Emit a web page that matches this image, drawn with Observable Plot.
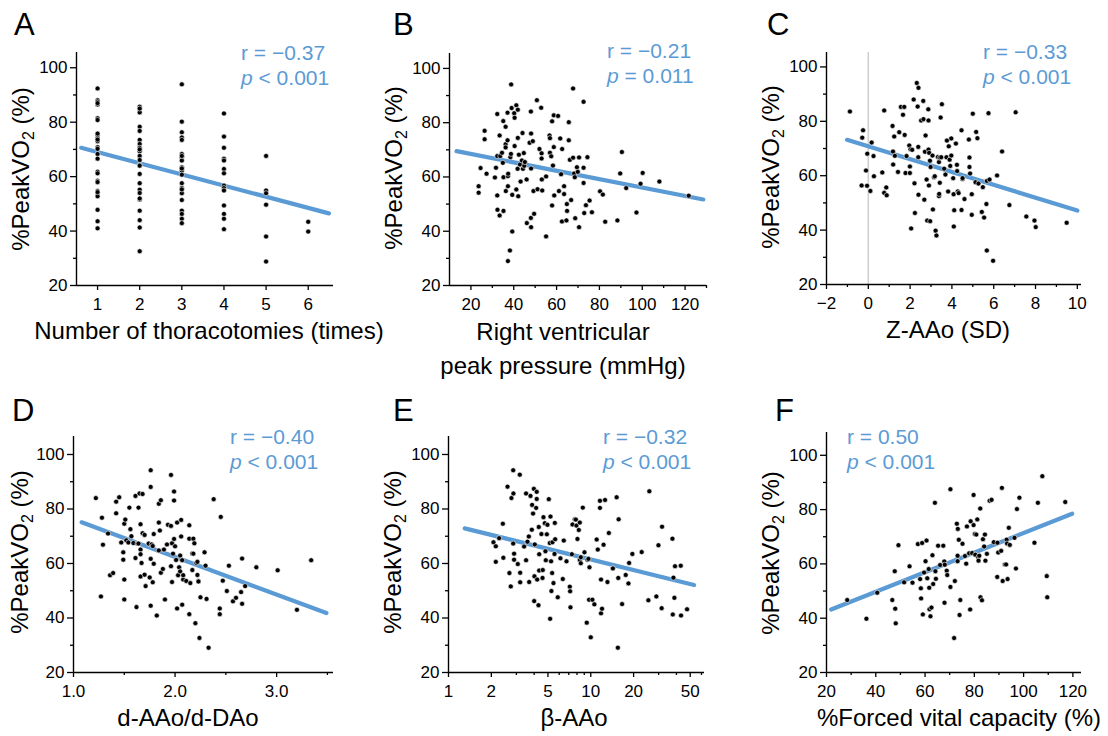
<!DOCTYPE html>
<html><head><meta charset="utf-8">
<script src="https://cdn.jsdelivr.net/npm/d3@7"></script>
<script src="https://cdn.jsdelivr.net/npm/@observablehq/plot@0.6"></script>
<style>
body{margin:0;background:#fff;}
#wrap{position:relative;width:1108px;height:736px;overflow:hidden;font-family:Helvetica,Arial,"Liberation Sans",sans-serif;}
#wrap svg{position:absolute;}
</style></head>
<body><div id="wrap"></div>
<script>
// ---- data: [x, %PeakVO2] ----
const aData = [
 [1,92.4],[1,88.1],[1,87.6],[1,86.5],[1,81.4],[1,80.8],[1,75.2],[1,74.2],[1,73.0],[1,70.8],[1,70.2],[1,68.3],[1,66.6],[1,61.8],[1,61.2],[1,58.5],[1,57.9],[1,54.7],[1,54.0],[1,52.8],[1,47.8],[1,43.6],[1,41.0],[1,87.0],[1,75.8],[1,73.6],[1,58.0],[1,54.3],
 [2,85.7],[2,84.8],[2,83.6],[2,78.3],[2,76.8],[2,73.5],[2,72.0],[2,70.6],[2,69.3],[2,67.6],[2,66.1],[2,64.3],[2,61.0],[2,57.6],[2,55.2],[2,54.0],[2,51.6],[2,47.5],[2,44.0],[2,41.3],[2,32.6],[2,85.0],[2,70.0],[2,64.0],[2,52.0],
 [3,93.9],[3,80.2],[3,76.3],[3,74.4],[3,73.5],[3,68.3],[3,67.1],[3,65.9],[3,63.4],[3,62.2],[3,60.7],[3,57.6],[3,55.8],[3,53.9],[3,51.4],[3,47.5],[3,46.3],[3,44.5],[3,42.9],[3,67.6],[3,63.0],[3,55.3],
 [4,83.2],[4,74.7],[4,70.6],[4,66.6],[4,65.9],[4,62.8],[4,61.2],[4,56.7],[4,55.8],[4,54.9],[4,49.4],[4,46.3],[4,44.5],[4,40.7],
 [5,67.6],[5,54.9],[5,53.9],[5,49.7],[5,38.0],[5,28.8],
 [6,43.4],[6,39.8]
];
const bData = [
 [23.6,56.6],[23.6,54.2],[24.5,63.3],[26.4,77.0],[26.4,73.9],[27.3,61.2],[31.2,59.8],[31.7,63.4],[32.3,83.2],[32.3,67.7],
 [32.3,53.2],[32.4,47.9],[33.4,75.3],[33.4,45.8],[33.7,67.7],[34.5,68.9],[34.9,65.2],[35.2,47.5],[35.2,59.9],[35.1,80.6],
 [36.2,78.5],[36.2,72.1],[36.2,70.9],[36.3,54.8],[37.1,83.7],[37.1,73.5],[37.3,56.6],[37.3,60.3],[37.4,61.2],[38.4,67.3],
 [38.7,68.5],[38.8,94.1],[39.0,85.4],[39.3,53.4],[39.3,39.9],[38.2,32.9],[37.3,29.0],[40.2,83.5],[40.4,81.8],[40.4,71.4],
 [41.2,86.4],[41.9,84.8],[41.2,55.4],[41.8,63.0],[41.9,74.4],[42.1,52.9],[42.4,68.2],[42.9,64.6],[43.2,58.3],[43.8,66.1],
 [44.1,76.2],[44.3,63.0],[44.7,68.8],[44.9,64.1],[45.2,65.5],[46.1,43.0],[46.0,59.1],[47.4,72.6],[48.0,84.1],[48.1,76.0],
 [48.1,63.1],[48.0,44.9],[48.1,41.5],[48.9,73.2],[49.2,54.8],[49.5,46.4],[50.8,88.3],[51.1,55.5],[52.0,70.3],[52.8,85.5],
 [53.0,68.7],[53.0,66.8],[53.1,59.1],[53.3,55.0],[55.1,60.2],[55.1,38.1],[56.7,75.3],[56.9,74.3],[56.9,68.9],[57.5,67.6],
 [57.9,80.5],[57.9,49.5],[58.3,64.2],[58.7,82.7],[58.7,71.0],[58.9,53.2],[60.7,82.5],[61.1,54.8],[61.7,74.2],[62.1,61.0],
 [62.6,70.3],[62.5,43.6],[63.5,53.7],[63.5,56.6],[64.6,44.0],[64.8,50.0],[64.9,47.5],[65.7,80.2],[65.7,73.5],[66.2,66.3],
 [66.8,51.5],[67.7,92.6],[67.7,67.1],[68.2,61.3],[68.5,59.9],[68.7,44.8],[69.5,63.6],[69.9,61.9],[70.5,41.5],[70.5,67.2],
 [72.6,87.7],[72.6,63.4],[72.6,57.8],[72.9,46.7],[73.7,49.6],[74.4,67.3],[75.4,51.3],[76.5,47.0],[80.3,54.7],[81.6,53.5],
 [82.7,43.5],[88.4,44.0],[89.7,61.3],[90.5,69.2],[92.5,55.9],[97.3,46.9],[99.2,57.5],[100.2,61.5],[108.0,58.3],[121.7,53.1]
];
const cData = [
 [-0.88,83.6],[-0.32,56.4],[-0.29,74.0],[-0.25,76.7],[-0.11,61.9],[-0.06,56.3],[-0.05,68.1],[0.10,54.4],[0.16,72.2],[0.25,67.2],
 [0.27,59.8],[0.67,61.2],[0.76,84.0],[0.76,53.7],[0.86,55.7],[0.88,52.8],[1.16,78.3],[1.18,68.9],[1.19,64.1],[1.24,74.4],
 [1.27,67.3],[1.42,61.4],[1.48,76.0],[1.56,85.3],[1.66,82.4],[1.72,85.3],[1.74,75.0],[1.78,61.0],[1.83,67.2],[1.96,71.1],
 [1.99,63.4],[1.99,61.0],[2.02,69.7],[2.05,40.6],[2.10,69.5],[2.17,88.0],[2.21,57.2],[2.23,46.3],[2.32,94.1],[2.36,85.4],
 [2.40,92.3],[2.39,70.6],[2.39,66.8],[2.40,53.0],[2.53,80.3],[2.63,87.5],[2.64,80.8],[2.68,51.2],[2.71,68.8],[2.74,74.8],
 [2.79,58.6],[2.82,43.5],[2.87,84.4],[2.88,80.3],[2.88,69.6],[2.90,56.4],[2.91,68.4],[2.95,65.5],[2.96,43.3],[2.98,63.2],
 [3.07,67.4],[3.09,47.6],[3.15,59.4],[3.18,59.8],[3.22,39.8],[3.26,38.0],[3.33,66.9],[3.38,65.0],[3.38,52.5],[3.39,53.3],
 [3.42,57.4],[3.42,66.7],[3.46,81.4],[3.49,66.8],[3.52,86.3],[3.63,62.6],[3.69,60.4],[3.74,66.8],[3.76,72.9],[3.82,54.2],
 [3.85,70.8],[3.89,65.9],[3.92,63.6],[3.97,67.4],[3.97,73.7],[4.06,59.1],[4.08,53.2],[4.09,41.3],[4.11,47.3],[4.19,71.8],
 [4.24,64.0],[4.25,61.7],[4.28,54.2],[4.32,53.6],[4.46,76.7],[4.46,47.4],[4.51,58.8],[4.51,59.1],[4.60,51.4],[4.81,73.3],
 [4.84,66.7],[4.84,63.2],[4.87,60.8],[4.95,45.6],[4.95,53.2],[5.00,82.8],[5.13,57.6],[5.16,76.1],[5.22,73.8],[5.27,57.1],
 [5.43,46.7],[5.48,55.8],[5.54,44.6],[5.65,49.6],[5.67,32.5],[5.67,58.1],[5.75,83.0],[5.80,58.6],[5.97,28.7],[6.16,60.1],
 [6.40,68.9],[6.75,49.2],[7.05,83.3],[7.56,45.0],[7.95,43.5],[8.01,41.1],[9.49,42.7]
];
const dData = [
 [1.22,84.0],[1.28,76.8],[1.29,66.9],[1.27,47.9],[1.34,71.0],[1.36,55.7],[1.39,56.5],[1.42,82.7],[1.42,78.4],[1.45,84.3],
 [1.47,67.7],[1.49,64.1],[1.49,61.4],[1.50,74.6],[1.50,54.1],[1.50,46.8],[1.51,76.1],[1.52,68.5],[1.54,67.7],[1.55,80.5],
 [1.56,72.6],[1.57,70.0],[1.59,67.5],[1.61,84.8],[1.61,62.0],[1.62,44.0],[1.63,67.3],[1.64,80.5],[1.64,67.3],[1.65,85.7],
 [1.66,65.1],[1.66,74.4],[1.66,63.4],[1.66,55.2],[1.67,60.2],[1.68,71.1],[1.68,85.5],[1.70,70.5],[1.70,55.9],[1.71,51.7],
 [1.74,67.3],[1.75,54.9],[1.76,94.2],[1.76,88.1],[1.76,44.5],[1.76,61.7],[1.77,67.0],[1.78,53.1],[1.78,66.4],[1.79,70.8],
 [1.79,59.9],[1.82,40.9],[1.84,75.0],[1.84,81.9],[1.84,64.8],[1.85,72.1],[1.86,56.6],[1.86,83.2],[1.88,58.0],[1.89,65.1],
 [1.90,46.8],[1.92,67.0],[1.93,74.2],[1.96,92.5],[1.96,73.8],[1.96,59.0],[1.97,53.2],[1.97,67.4],[1.98,63.6],[1.99,86.4],
 [1.99,83.1],[1.99,69.0],[2.00,66.3],[2.01,61.3],[2.02,75.0],[2.02,43.5],[2.03,55.7],[2.04,58.6],[2.05,62.9],[2.05,57.1],
 [2.06,69.9],[2.06,76.0],[2.07,44.9],[2.07,61.2],[2.08,54.1],[2.08,55.7],[2.11,53.6],[2.14,41.4],[2.14,74.0],[2.14,69.1],
 [2.15,52.8],[2.17,57.6],[2.17,63.7],[2.18,69.1],[2.18,63.6],[2.19,67.4],[2.20,38.1],[2.21,60.2],[2.22,60.6],[2.22,55.8],
 [2.23,53.6],[2.23,53.4],[2.24,32.7],[2.25,47.6],[2.29,64.1],[2.30,59.2],[2.31,47.0],[2.33,29.1],[2.38,83.6],[2.44,43.5],
 [2.44,41.4],[2.45,77.1],[2.47,53.7],[2.51,49.9],[2.53,59.2],[2.57,46.1],[2.60,47.4],[2.65,49.5],[2.66,61.8],[2.66,45.2],
 [2.69,51.7],[2.80,58.6],[3.01,57.5],[3.20,43.0],[3.34,61.2]
];
const eData = [
 [2.07,67.8],[2.15,66.3],[2.15,60.6],[2.27,69.3],[2.41,74.6],[2.43,62.1],[2.60,88.2],[2.68,56.5],[2.74,51.6],[2.77,84.0],
 [2.85,94.2],[2.86,85.7],[2.85,67.3],[2.89,63.6],[2.89,61.4],[3.07,59.8],[3.17,92.6],[3.19,56.6],[3.19,53.1],[3.40,66.2],
 [3.51,85.7],[3.51,61.2],[3.59,68.0],[3.67,69.9],[3.69,53.2],[3.77,84.8],[3.85,72.4],[3.87,81.5],[3.93,78.3],[3.98,87.4],
 [4.02,55.3],[4.00,46.2],[4.04,67.0],[4.13,80.4],[4.17,86.3],[4.17,83.7],[4.20,54.1],[4.29,44.7],[4.31,73.4],[4.34,63.4],
 [4.34,57.4],[4.50,70.8],[4.58,54.7],[4.60,57.6],[4.65,77.0],[4.75,74.8],[4.80,64.5],[4.83,61.2],[4.91,70.7],[4.96,74.2],
 [5.07,83.6],[5.15,67.5],[5.18,39.7],[5.21,77.2],[5.26,60.8],[5.29,49.9],[5.35,56.5],[5.38,67.8],[5.47,52.8],[5.56,63.5],
 [5.59,74.9],[5.62,68.9],[5.86,47.6],[6.12,61.9],[6.36,54.3],[6.46,68.4],[6.75,60.8],[7.12,51.5],[7.16,49.8],[7.20,43.9],
 [7.36,63.4],[7.44,74.3],[7.72,76.2],[7.85,76.1],[7.93,73.9],[8.06,69.0],[8.24,72.3],[8.37,75.0],[8.37,61.3],[8.51,62.3],
 [8.51,60.1],[8.79,80.5],[9.03,64.1],[9.37,38.3],[9.48,61.4],[9.63,61.7],[9.73,46.7],[9.79,58.6],[10.0,32.9],[10.27,46.7],
 [10.6,45.0],[11.0,68.8],[11.2,65.1],[11.6,83.0],[11.6,80.4],[11.8,54.1],[11.8,41.7],[12.0,43.4],[12.3,66.9],[12.6,83.3],
 [13.1,53.2],[13.4,71.2],[14.3,58.2],[15.2,84.3],[15.5,29.1],[15.6,54.7],[15.7,76.2],[16.6,45.1],[17.6,55.8],[18.4,52.7],
 [18.6,60.2],[19.6,63.5],[22.8,64.2],[25.4,46.5],[25.8,86.5],[28.9,47.9],[29.9,66.7],[31.5,43.6],[31.7,73.5],[37.5,69.1],
 [37.7,41.3],[38.1,54.8],[38.7,47.4],[39.1,59.0],[42.9,59.2],[43.1,40.9],[47.5,43.2]
];
const fData = [
 [28.4,46.7],[36.2,39.8],[40.6,49.4],[46.7,46.7],[47.7,57.3],[47.9,43.5],[48.1,38.1],[49.2,66.9],[51.5,53.2],[53.7,59.1],
 [54.9,53.1],[57.1,67.3],[58.0,54.4],[58.3,51.0],[58.4,47.3],[58.8,67.7],[59.1,41.4],[59.6,56.8],[60.2,61.0],[60.6,68.6],
 [60.9,54.7],[61.5,58.1],[61.7,51.2],[61.8,43.3],[62.2,40.7],[62.6,43.9],[63.0,63.2],[63.3,52.6],[64.0,82.5],[64.2,57.3],
 [64.4,54.5],[65.3,66.7],[66.1,59.6],[67.4,66.7],[67.8,60.9],[67.9,45.7],[68.0,59.7],[68.8,57.5],[69.0,55.9],[70.3,51.5],
 [70.3,87.5],[72.1,53.7],[71.8,32.7],[72.9,74.8],[73.2,63.0],[73.2,61.0],[73.3,72.9],[73.7,68.9],[74.0,41.2],[74.3,46.7],
 [75.2,67.4],[76.2,62.9],[76.7,60.1],[77.0,73.8],[77.9,63.9],[78.3,43.2],[78.5,75.7],[79.1,64.0],[79.7,85.4],[79.7,74.3],
 [80.2,71.0],[80.4,63.4],[80.8,70.8],[81.2,76.4],[81.6,62.4],[81.7,61.2],[82.0,63.0],[82.4,80.4],[82.5,47.7],[83.1,46.6],
 [83.5,69.1],[84.0,66.4],[84.3,70.8],[84.5,61.2],[85.1,63.7],[86.2,83.3],[87.0,83.6],[87.9,68.0],[89.3,55.2],[89.4,67.8],
 [89.7,64.2],[90.9,64.8],[91.2,88.0],[91.5,53.7],[92.4,59.8],[92.9,59.8],[93.1,68.9],[93.3,67.5],[93.5,54.4],[94.0,73.3],
 [94.4,67.0],[96.3,69.6],[96.9,58.3],[97.3,80.2],[98.3,84.4],[104.4,67.8],[105.8,82.5],[107.6,92.3],[109.4,55.5],[109.6,47.7],
 [116.9,82.8]
];
// regression lines as drawn: [[x1,y1],[x2,y2]]
const aFit = [[0.61,70.6],[6.49,46.5]];
const bFit = [[13.3,69.5],[128.5,51.7]];
const cFit = [[-1.02,73.2],[10.0,47.2]];
const dFit = [[1.08,75.1],[3.49,41.8]];
const eFit = [[1.30,72.9],[53.2,52.1]];
const fFit = [[21.9,43.2],[119.7,78.5]];
// tick values
const yTicks = [20,40,60,80,100];
const yMinor = [30,50,70,90];
const aTicks = [1,2,3,4,5,6];
const bTicks = [20,40,60,80,100,120], bMinor = [30,50,70,90,110,130];
const cTicks = [-2,0,2,4,6,8,10], cMinor = [-1,1,3,5,7,9];
const dTicks = [1.0,2.0,3.0], dMinor = [1.5,2.5,3.5];
const eTicks = [1,2,5,10,20,50], eMinor = [3,4,6,7,8,9,30,40,60];
const fTicks = [20,40,60,80,100,120], fMinor = [30,50,70,90,110];
// statistics text
const stats = {A:["r = −0.37","<"," 0.001"],B:["r = −0.21","="," 0.011"],C:["r = −0.33","<"," 0.001"],D:["r = −0.40","<"," 0.001"],E:["r = −0.32","<"," 0.001"],F:["r = 0.50","<"," 0.001"]};
const xTitles = {A:["Number of thoracotomies (times)"],B:["Right ventricular","peak pressure (mmHg)"],C:["Z-AAo (SD)"],D:["d-AAo/d-DAo"],E:["β-AAo"],F:["%Forced vital capacity (%)"]};

const BLUE = "#5b9bd5";
const FONT = "Helvetica, Arial, 'Liberation Sans', sans-serif";
const minus = d => d < 0 ? "−" + Math.abs(d) : String(d);

const panels = [
 {id:"A",data:aData,fit:aFit,left:0,top:0,mL:76,mR:37,mT:52,mB:83,xd:[0.5,6.6],yMax:105.6,t:aTicks,m:[],fmt:String},
 {id:"B",data:bData,fit:bFit,left:370,top:0,mL:79,mR:34,mT:53,mB:83,xd:[10,130],yMax:105.5,t:bTicks,m:bMinor,fmt:String},
 {id:"C",data:cData,fit:cFit,left:740,top:0,mL:86,mR:29,mT:52,mB:84,xd:[-2,10.2],yMax:105.3,t:cTicks,m:cMinor,fmt:minus,zero:true},
 {id:"D",data:dData,fit:dFit,left:0,top:368,mL:73,mR:37,mT:68,mB:64,xd:[1.0,3.56],yMax:106.6,t:dTicks,m:dMinor,fmt:d=>d.toFixed(1)},
 {id:"E",data:eData,fit:eFit,left:370,top:368,mL:78,mR:36,mT:68,mB:64,xd:[1,63],yMax:106.6,t:eTicks,m:eMinor,fmt:String,log:true},
 {id:"F",data:fData,fit:fFit,left:740,top:368,mL:86,mR:29,mT:64,mB:64,xd:[20,123.5],yMax:108.4,t:fTicks,m:fMinor,fmt:String}
];

const wrap = document.getElementById("wrap");
for (const p of panels) {
  const svg = Plot.plot({
    width: 370, height: 368,
    marginLeft: p.mL, marginRight: p.mR, marginTop: p.mT, marginBottom: p.mB,
    style: {fontFamily: FONT, fontSize: "17px", color: "#000", background: "transparent", overflow: "visible"},
    x: {type: p.log ? "log" : "linear", domain: p.xd},
    y: {domain: [20, p.yMax]},
    marks: [
      p.zero ? Plot.ruleX([0], {y1: 20, y2: p.yMax, stroke: "#d0d0d0", strokeWidth: 1.6}) : null,
      Plot.ruleX([p.xd[0]], {y1: 20, y2: p.yMax, stroke: "#000", strokeWidth: 1.4}),
      Plot.ruleY([20], {x1: p.xd[0], x2: p.xd[1], stroke: "#000", strokeWidth: 1.4}),
      Plot.axisY({ticks: yTicks, tickSize: 6, tickPadding: 3, fontSize: 17, label: null, strokeWidth: 1.3}),
      Plot.axisY({ticks: yMinor, tickSize: 3, tickFormat: () => "", label: null, strokeWidth: 1.3}),
      Plot.axisX({ticks: p.t, tickSize: 5, tickPadding: 7, fontSize: 17, label: null, tickFormat: p.fmt, strokeWidth: 1.3}),
      p.m.length ? Plot.axisX({ticks: p.m, tickSize: 3, tickFormat: () => "", label: null, strokeWidth: 1.3}) : null,
      Plot.line(p.fit, {x: d => d[0], y: d => d[1], stroke: BLUE, strokeWidth: 4.2}),
      Plot.dot(p.data, {x: d => d[0], y: d => d[1], r: 2.5, fill: "#000", stroke: "#fff", strokeWidth: 0.6})
    ]
  });
  svg.style.left = p.left + "px";
  svg.style.top = p.top + "px";
  wrap.appendChild(svg);
}

// overlay text (panel letters, statistics, axis titles)
const letterPos = {A:[14,35],B:[393,35],C:[767,35],D:[12,421],E:[393,421],F:[775,421]};
const statPos = {A:[241,60],B:[607,58],C:[983,59],D:[230,444],E:[603,444],F:[847,444]};
const yTitlePos = {A:[23,169],B:[396,168],C:[773,167],D:[22,552],E:[395,552],F:[773,553]};
const xTitlePos = {A:[209,339],B:[563,340],C:[948,338],D:[188,726],E:[574,726],F:[959,726]};
let s = `<svg xmlns="http://www.w3.org/2000/svg" width="1108" height="736" style="left:0;top:0;font-family:${FONT}">`;
for (const id of "ABCDEF") {
  const [lx, ly] = letterPos[id];
  s += `<text x="${lx}" y="${ly}" font-size="31">${id}</text>`;
  const [sx, sy] = statPos[id];
  const st = stats[id];
  s += `<text x="${sx}" y="${sy}" font-size="21" fill="${BLUE}">${st[0]}</text>`;
  s += `<text x="${sx}" y="${sy + 25}" font-size="21" fill="${BLUE}"><tspan font-style="italic">p</tspan> ${st[1] === "<" ? "&lt;" : st[1]}${st[2]}</text>`;
  const [tx, ty] = yTitlePos[id];
  s += `<text transform="translate(${tx},${ty}) rotate(-90)" text-anchor="middle" dy="0.26em" font-size="24">%PeakVO<tspan font-size="16" dy="5">2</tspan><tspan dy="-5"> (%)</tspan></text>`;
  const [xx, xy] = xTitlePos[id];
  xTitles[id].forEach((line, i) => {
    s += `<text x="${xx}" y="${xy + i * 34}" text-anchor="middle" font-size="24">${line}</text>`;
  });
}
s += `</svg>`;
wrap.insertAdjacentHTML("beforeend", s);
</script>
</body></html>
